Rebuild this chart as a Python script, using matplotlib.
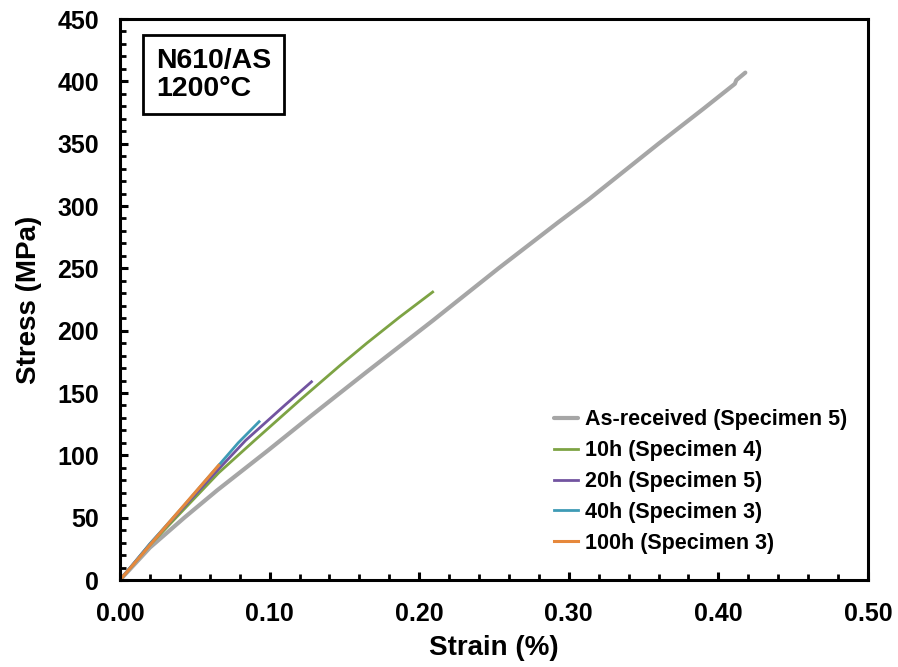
import matplotlib
matplotlib.use('Agg')
import matplotlib.pyplot as plt
from matplotlib.ticker import MultipleLocator, FormatStrFormatter

plt.rcParams['font.family'] = ['Liberation Sans', 'DejaVu Sans']
plt.rcParams['font.weight'] = 'bold'

# values (strain in %, stress in MPa)
asr_strain = [0, 0.02, 0.043, 0.065, 0.099, 0.127, 0.147, 0.165,
              0.209, 0.253, 0.293, 0.313, 0.36, 0.39, 0.411, 0.412, 0.415, 0.418]
asr_stress = [0, 26, 50, 72, 104, 131, 150, 167,
              208, 250, 287, 305, 350, 378, 398, 401, 404, 407]

h10_strain = [0, 0.02, 0.043, 0.066, 0.09, 0.12, 0.147, 0.165, 0.187, 0.209]
h10_stress = [0, 28, 57, 86, 112, 144, 172, 190, 211, 231]

h20_strain = [0, 0.02, 0.043, 0.066, 0.084, 0.11, 0.128]
h20_stress = [0, 29, 59, 89, 112, 140, 159]

h40_strain = [0, 0.02, 0.043, 0.066, 0.079, 0.093]
h40_stress = [0, 29, 60, 92, 110, 127]

h100_strain = [0, 0.015, 0.032, 0.066]
h100_stress = [0, 21, 45, 92]

labels = ['As-received (Specimen 5)', '10h (Specimen 4)', '20h (Specimen 5)',
          '40h (Specimen 3)', '100h (Specimen 3)']
colors = ['#A6A6A6', '#7DA344', '#7254A0', '#3E9BB5', '#E6883C']

fig = plt.figure(figsize=(8.98, 6.67), dpi=100)
ax = fig.add_axes([0.1336, 0.1304, 0.8330, 0.8411])

ax.plot(asr_strain, asr_stress, color=colors[0], lw=3.0, label=labels[0],
        solid_capstyle='round')
ax.plot(h10_strain, h10_stress, color=colors[1], lw=2.0, label=labels[1])
ax.plot(h20_strain, h20_stress, color=colors[2], lw=2.0, label=labels[2])
ax.plot(h40_strain, h40_stress, color=colors[3], lw=2.0, label=labels[3])
ax.plot(h100_strain, h100_stress, color=colors[4], lw=2.2, label=labels[4])

ax.set_xlim(0, 0.5)
ax.set_ylim(0, 450)
ax.xaxis.set_major_locator(MultipleLocator(0.1))
ax.xaxis.set_minor_locator(MultipleLocator(0.02))
ax.yaxis.set_major_locator(MultipleLocator(50))
ax.yaxis.set_minor_locator(MultipleLocator(10))
ax.xaxis.set_major_formatter(FormatStrFormatter('%.2f'))

for s in ax.spines.values():
    s.set_linewidth(2.2)
ax.tick_params(which='major', direction='in', length=6, width=2.2,
               labelsize=18)
ax.tick_params(which='minor', direction='in', length=4, width=2.0)
ax.tick_params(axis='x', which='major', pad=16)
ax.tick_params(axis='y', which='major', pad=15)

ax.set_xlabel('Strain (%)', fontsize=20, fontweight='bold', labelpad=6)
ax.set_ylabel('Stress (MPa)', fontsize=20, fontweight='bold', labelpad=11)

ax.text(0.048, 0.949, 'N610/AS\n1200°C', transform=ax.transAxes, fontsize=20.5,
        fontweight='bold', va='top', ha='left', linespacing=1.1,
        bbox=dict(boxstyle='square,pad=0.45', fc='white', ec='black', lw=2.0))

leg = ax.legend(loc='lower right', bbox_to_anchor=(0.998, 0.012), frameon=False,
                fontsize=15.5, handlelength=1.12, handletextpad=0.3,
                labelspacing=0.46)
for t in leg.get_texts():
    t.set_fontweight('bold')

fig.savefig('out.png', dpi=100)
